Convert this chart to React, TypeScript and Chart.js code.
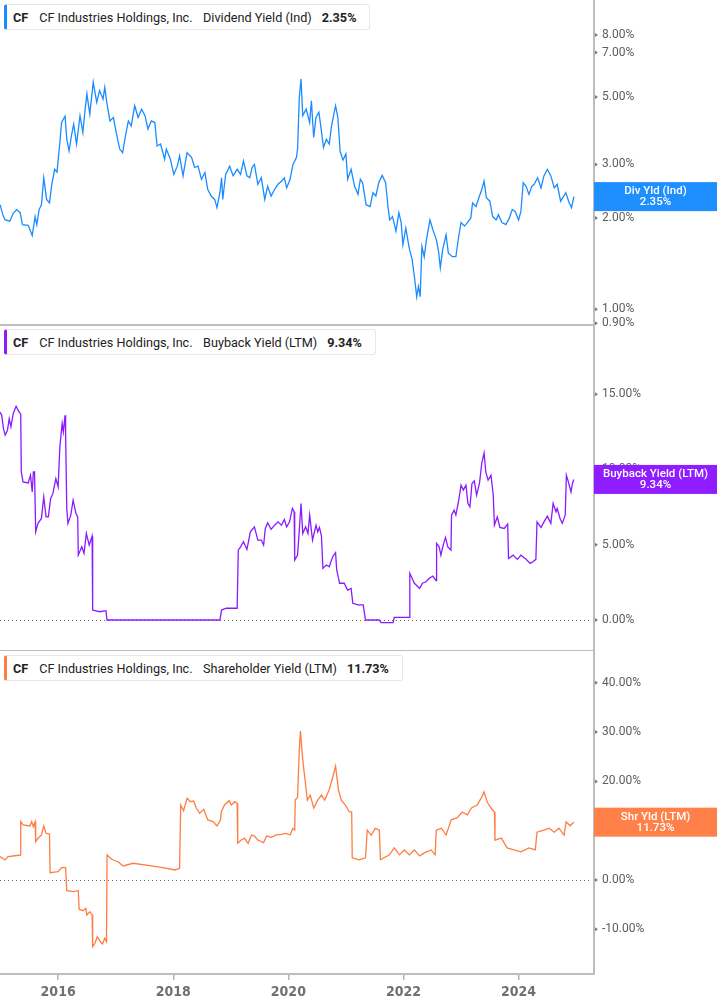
import React, { useEffect, useRef } from "react";
import { Chart, registerables } from "chart.js";

Chart.register(...registerables);

// ---------- DATA ----------
const yearTicks = [2016, 2018, 2020, 2022, 2024];
const divTicks = [0.9, 1, 2, 3, 5, 7, 8];
const bbTicks = [0, 5, 10, 15];
const shTicks = [-10, 0, 10, 20, 30, 40];

const divYears = [
  2014.99, 2015.05, 2015.08, 2015.16, 2015.22, 2015.28, 2015.34, 2015.38, 2015.48, 2015.55,
  2015.6, 2015.63, 2015.67, 2015.71, 2015.75, 2015.8, 2015.85, 2015.89, 2015.94, 2015.98,
  2016.03, 2016.06, 2016.12, 2016.15, 2016.19, 2016.23, 2016.27, 2016.32, 2016.38, 2016.43,
  2016.46, 2016.5, 2016.55, 2016.61, 2016.67, 2016.72, 2016.78, 2016.81, 2016.85, 2016.9,
  2016.96, 2017.01, 2017.07, 2017.12, 2017.18, 2017.22, 2017.27, 2017.33, 2017.39, 2017.45,
  2017.51, 2017.56, 2017.62, 2017.68, 2017.72, 2017.78, 2017.85, 2017.88, 2017.95, 2018.01,
  2018.07, 2018.11, 2018.17, 2018.24, 2018.32, 2018.37, 2018.43, 2018.49, 2018.55, 2018.6,
  2018.66, 2018.72, 2018.76, 2018.81, 2018.84, 2018.86, 2018.91, 2018.98, 2019.04, 2019.11,
  2019.17, 2019.22, 2019.28, 2019.33, 2019.37, 2019.41, 2019.47, 2019.53, 2019.59, 2019.64,
  2019.7, 2019.76, 2019.82, 2019.88, 2019.93, 2019.97, 2020.03, 2020.08, 2020.14, 2020.16,
  2020.19, 2020.22, 2020.25, 2020.31, 2020.37, 2020.4, 2020.44, 2020.48, 2020.53, 2020.57,
  2020.61, 2020.66, 2020.71, 2020.75, 2020.82, 2020.86, 2020.9, 2020.95, 2021.0, 2021.03,
  2021.09, 2021.15, 2021.21, 2021.25, 2021.29, 2021.35, 2021.42, 2021.47, 2021.52, 2021.57,
  2021.63, 2021.69, 2021.73, 2021.76, 2021.81, 2021.87, 2021.92, 2021.96, 2021.99, 2022.04,
  2022.1, 2022.15, 2022.19, 2022.23, 2022.26, 2022.29, 2022.32, 2022.36, 2022.4, 2022.46,
  2022.51, 2022.57, 2022.61, 2022.64, 2022.68, 2022.74, 2022.78, 2022.85, 2022.91, 2022.96,
  2023.0, 2023.06, 2023.11, 2023.17, 2023.2, 2023.26, 2023.32, 2023.36, 2023.4, 2023.44,
  2023.5, 2023.55, 2023.61, 2023.65, 2023.71, 2023.78, 2023.84, 2023.89, 2023.94, 2024.0,
  2024.04, 2024.08, 2024.13, 2024.18, 2024.23, 2024.27, 2024.33, 2024.39, 2024.44, 2024.5,
  2024.56, 2024.62, 2024.67, 2024.73, 2024.82, 2024.88, 2024.92, 2024.96,
];
const divValues = [
  2.21, 2.02, 1.97, 1.95, 2.07, 2.13, 2.08, 1.9, 1.89, 1.75,
  2.02, 1.9, 2.13, 2.21, 2.71, 2.3, 2.24, 2.58, 2.89, 2.83,
  3.54, 4.12, 4.32, 3.63, 3.32, 3.72, 4.07, 3.5, 4.34, 3.82,
  4.39, 5.12, 4.39, 5.59, 4.8, 5.25, 4.92, 5.38, 4.74, 4.17,
  4.28, 3.82, 3.37, 3.28, 3.82, 4.17, 4.02, 4.68, 4.28, 4.56,
  4.34, 3.92, 4.17, 4.12, 3.45, 3.5, 3.12, 3.37, 3.12, 2.78,
  2.96, 3.2, 2.75, 3.28, 3.16, 2.93, 2.96, 2.68, 2.82, 2.48,
  2.36, 2.3, 2.16, 2.42, 2.71, 2.3, 2.78, 2.96, 2.75, 2.89,
  2.78, 3.08, 2.75, 2.71, 2.93, 3.0, 2.58, 2.71, 2.3, 2.54,
  2.36, 2.48, 2.58, 2.64, 2.71, 2.51, 2.68, 3.0, 3.16, 3.37,
  4.99, 5.73, 4.34, 4.56, 4.12, 4.86, 3.68, 4.28, 4.45, 3.92,
  3.41, 3.63, 3.5, 4.02, 4.68, 4.28, 3.3, 3.1, 3.25, 2.68,
  2.89, 2.54, 2.39, 2.68, 2.61, 2.21, 2.18, 2.42, 2.36, 2.61,
  2.76, 2.61, 2.18, 1.97, 2.02, 1.81, 2.08, 1.93, 1.63, 1.85,
  1.59, 1.46, 1.28, 1.1, 1.19, 1.1, 1.61, 1.49, 1.7, 1.97,
  1.83, 1.7, 1.55, 1.37, 1.57, 1.76, 1.53, 1.49, 1.49, 1.74,
  1.93, 1.88, 1.93, 2.0, 2.24, 2.18, 2.36, 2.48, 2.64, 2.33,
  2.27, 2.02, 1.97, 2.05, 1.93, 1.9, 2.0, 2.13, 2.1, 1.97,
  2.1, 2.61, 2.54, 2.39, 2.54, 2.58, 2.71, 2.51, 2.75, 2.89,
  2.75, 2.51, 2.58, 2.27, 2.42, 2.24, 2.16, 2.35,
];

const bbYears = [
  2014.99, 2015.02, 2015.05, 2015.08, 2015.12, 2015.15, 2015.18, 2015.22, 2015.27, 2015.31,
  2015.35, 2015.36, 2015.39, 2015.48, 2015.52, 2015.55, 2015.57, 2015.59, 2015.61, 2015.65,
  2015.71, 2015.75, 2015.79, 2015.83, 2015.87, 2015.91, 2015.96, 2016.0, 2016.03, 2016.07,
  2016.09, 2016.12, 2016.13, 2016.15, 2016.17, 2016.22, 2016.26, 2016.31, 2016.34, 2016.35,
  2016.41, 2016.45, 2016.49, 2016.54, 2016.59, 2016.6, 2016.72, 2016.83, 2016.85, 2018.81,
  2018.84, 2018.92, 2019.11, 2019.13, 2019.17, 2019.22, 2019.28, 2019.34, 2019.41, 2019.47,
  2019.53, 2019.57, 2019.6, 2019.64, 2019.7, 2019.76, 2019.82, 2019.88, 2019.93, 2019.97,
  2020.02, 2020.07, 2020.1, 2020.11, 2020.16, 2020.19, 2020.22, 2020.25, 2020.3, 2020.34,
  2020.37, 2020.42, 2020.48, 2020.51, 2020.54, 2020.575, 2020.6, 2020.66, 2020.71, 2020.77,
  2020.82, 2020.84, 2020.89, 2020.97, 2021.03, 2021.09, 2021.12, 2021.21, 2021.3, 2021.34,
  2021.58, 2021.61, 2021.82, 2021.84, 2022.1, 2022.11, 2022.19, 2022.28, 2022.33, 2022.39,
  2022.45, 2022.51, 2022.565, 2022.575, 2022.62, 2022.65, 2022.69, 2022.73, 2022.77, 2022.825,
  2022.835, 2022.88, 2022.91, 2022.96, 2023.0, 2023.04, 2023.085, 2023.12, 2023.155, 2023.19,
  2023.23, 2023.27, 2023.32, 2023.36, 2023.4, 2023.43, 2023.47, 2023.52, 2023.56, 2023.58,
  2023.63, 2023.675, 2023.75, 2023.81, 2023.825, 2023.905, 2023.98, 2024.04, 2024.13, 2024.2,
  2024.25, 2024.3, 2024.32, 2024.39, 2024.44, 2024.5, 2024.56, 2024.6, 2024.65, 2024.67,
  2024.72, 2024.76, 2024.81, 2024.83, 2024.865, 2024.91, 2024.935, 2024.96,
];
const bbValues = [
  13.82, 13.6, 12.72, 12.28, 12.61, 13.38, 12.83, 13.72, 14.2, 13.89,
  13.67, 9.84, 9.18, 9.11, 9.62, 8.51, 9.84, 9.84, 5.86, 6.42,
  6.75, 8.18, 6.85, 6.85, 8.08, 8.41, 9.4, 8.85, 11.5, 13.05,
  12.5, 13.6, 12.39, 7.41, 6.42, 6.97, 7.96, 7.08, 6.85, 4.31,
  4.86, 4.43, 5.75, 4.98, 5.57, 0.66, 0.55, 0.62, 0.0, 0.0,
  0.66, 0.78, 0.78, 4.64, 4.86, 5.2, 4.69, 5.86, 6.19, 5.31,
  5.31, 4.98, 6.08, 6.46, 6.02, 6.3, 6.52, 6.3, 6.68, 6.19,
  6.52, 7.41, 7.19, 3.98, 4.31, 5.97, 7.74, 5.75, 6.19, 5.75,
  6.97, 5.31, 6.3, 5.86, 6.15, 5.57, 3.43, 3.65, 3.54, 4.2,
  4.47, 3.32, 2.44, 2.44, 1.99, 2.1, 1.11, 1.0, 1.0, 0.0,
  0.0, -0.18, -0.18, 0.18, 0.18, 3.1, 2.44, 2.1, 2.44, 2.54,
  2.77, 2.92, 2.61, 5.09, 4.86, 4.31, 4.98, 5.49, 4.86, 4.64,
  6.97, 7.3, 6.97, 7.96, 8.96, 8.63, 8.96, 7.74, 7.52, 9.07,
  9.24, 8.29, 9.07, 10.4, 11.1, 9.84, 9.29, 9.62, 8.29, 6.3,
  6.85, 6.15, 6.08, 6.37, 4.09, 4.31, 4.03, 4.31, 4.03, 3.76,
  3.87, 4.03, 6.52, 6.15, 6.52, 6.9, 6.42, 7.74, 7.19, 7.41,
  6.75, 6.42, 6.97, 9.62, 9.18, 8.51, 9.07, 9.34,
];

const shYears = [
  2014.99, 2015.08, 2015.13, 2015.22, 2015.34, 2015.35, 2015.39, 2015.51, 2015.54, 2015.57,
  2015.6, 2015.61, 2015.65, 2015.71, 2015.75, 2015.79, 2015.85, 2015.86, 2016.0, 2016.06,
  2016.13, 2016.15, 2016.26, 2016.35, 2016.365, 2016.435, 2016.48, 2016.5, 2016.55, 2016.59,
  2016.6, 2016.64, 2016.68, 2016.72, 2016.77, 2016.81, 2016.84, 2016.85, 2016.93, 2017.04,
  2017.13, 2017.3, 2017.59, 2017.82, 2018.03, 2018.11, 2018.13, 2018.18, 2018.24, 2018.3,
  2018.355, 2018.4, 2018.46, 2018.53, 2018.6, 2018.69, 2018.76, 2018.82, 2018.835, 2018.89,
  2018.97, 2019.01, 2019.07, 2019.11, 2019.12, 2019.18, 2019.24, 2019.3, 2019.36, 2019.41,
  2019.47, 2019.57, 2019.62, 2019.7, 2019.79, 2019.88, 2019.96, 2020.03, 2020.08, 2020.11,
  2020.12, 2020.16, 2020.19, 2020.21, 2020.25, 2020.28, 2020.33, 2020.38, 2020.44, 2020.51,
  2020.575, 2020.63, 2020.71, 2020.78, 2020.82, 2020.87, 2020.92, 2020.99, 2021.06, 2021.1,
  2021.11, 2021.23, 2021.34, 2021.37, 2021.44, 2021.51, 2021.58, 2021.6, 2021.755, 2021.84,
  2021.93, 2022.015, 2022.1, 2022.19, 2022.28, 2022.36, 2022.48, 2022.55, 2022.57, 2022.66,
  2022.74, 2022.83, 2022.93, 2023.02, 2023.11, 2023.18, 2023.28, 2023.35, 2023.4, 2023.455,
  2023.52, 2023.58, 2023.59, 2023.7, 2023.8, 2023.92, 2024.04, 2024.18, 2024.29, 2024.32,
  2024.44, 2024.53, 2024.62, 2024.7, 2024.79, 2024.825, 2024.895, 2024.96,
];
const shValues = [
  4.73, 4.06, 4.73, 4.87, 5.07, 11.83, 11.16, 10.95, 11.83, 10.81,
  11.83, 7.77, 8.46, 9.13, 10.95, 9.47, 9.33, 1.48, 1.68, 2.5,
  2.5, -2.17, -2.37, -2.17, -5.94, -6.23, -5.74, -7.1, -6.43, -7.1,
  -13.53, -12.84, -11.5, -12.31, -12.98, -11.83, -12.51, 5.07, 4.2, 3.71,
  2.84, 3.39, 2.9, 2.5, 2.03, 2.37, 15.21, 14.06, 16.57, 15.88,
  16.02, 14.54, 13.53, 14.34, 12.17, 11.83, 10.95, 12.17, 13.85, 15.21,
  16.09, 15.21, 15.88, 15.56, 7.44, 8.11, 8.46, 7.44, 9.13, 8.92,
  8.11, 7.57, 8.92, 8.66, 9.13, 9.27, 9.47, 9.13, 10.49, 10.14,
  16.23, 16.77, 26.37, 30.2, 24.3, 21.3, 16.2, 17.2, 14.6, 16.2,
  17.2, 16.2, 18.3, 21.3, 23.1, 18.3, 16.2, 15.2, 13.8, 13.8,
  4.5, 4.1, 4.5, 10.1, 9.1, 10.5, 10.1, 4.1, 5.1, 6.5,
  5.1, 6.1, 5.1, 6.1, 4.9, 5.5, 6.1, 5.1, 10.1, 10.5,
  9.1, 12.2, 12.6, 13.8, 13.2, 14.6, 15.2, 16.6, 17.9, 15.8,
  14.6, 13.8, 8.1, 8.5, 6.5, 6.1, 5.7, 6.5, 6.1, 9.7,
  10.1, 10.5, 9.7, 10.5, 9.1, 11.8, 11.0, 11.73,
];

// ---------- LAYOUT / STYLE ----------
const W = 717;
const X_MIN = 2014.99;
const X_MAX = 2025.31;
const AXIS_W = 123;

type PanelCfg = {
  top: number;
  height: number;
  plotHeight: number;
  years: number[];
  values: number[];
  color: string;
  boxColor: string;
  log: boolean;
  yMin: number;
  yMax: number;
  ticks: number[];
  zero: boolean;
  showX: boolean;
  boxLabel: string;
  legendTitle: string;
  legendTop: number;
};

const panels: PanelCfg[] = [
  {
    top: 0, height: 336, plotHeight: 325, years: divYears, values: divValues,
    color: "#1a8cff", boxColor: "#1f8fff", log: true, yMin: 0.888, yMax: 10.43,
    ticks: divTicks, zero: false, showX: false, boxLabel: "Div Yld (Ind)",
    legendTitle: "Dividend Yield (Ind)", legendTop: 4,
  },
  {
    top: 325, height: 326, plotHeight: 326, years: bbYears, values: bbValues,
    color: "#8b1aff", boxColor: "#8f1dff", log: false, yMin: -2.06, yMax: 19.6,
    ticks: bbTicks, zero: true, showX: false, boxLabel: "Buyback Yield (LTM)",
    legendTitle: "Buyback Yield (LTM)", legendTop: 329,
  },
  {
    top: 651, height: 354, plotHeight: 323, years: shYears, values: shValues,
    color: "#ff7d43", boxColor: "#ff8048", log: false, yMin: -19.07, yMax: 46.45,
    ticks: shTicks, zero: true, showX: true, boxLabel: "Shr Yld (LTM)",
    legendTitle: "Shareholder Yield (LTM)", legendTop: 655,
  },
];

const overlayPlugin = {
  id: "overlay",
  beforeDatasetsDraw(chart: any, _args: any, opts: any) {
    if (!opts.zero) return;
    const { ctx, chartArea } = chart;
    const y = Math.round(chart.scales.y.getPixelForValue(0)) + 0.5;
    ctx.save();
    ctx.strokeStyle = "#6f6f6f";
    ctx.lineWidth = 1;
    ctx.setLineDash([1, 3]);
    ctx.beginPath();
    ctx.moveTo(chartArea.left, y);
    ctx.lineTo(chartArea.right - 2, y);
    ctx.stroke();
    ctx.restore();
  },
  afterDraw(chart: any, _args: any, opts: any) {
    const { ctx, chartArea } = chart;
    const ys = chart.scales.y;
    ctx.save();
    ctx.fillStyle = "#7a7a7a";
    for (const t of ys.ticks) {
      const y = ys.getPixelForValue(t.value);
      ctx.beginPath();
      ctx.moveTo(chartArea.right + 1, y - 2);
      ctx.lineTo(chartArea.right + 4, y);
      ctx.lineTo(chartArea.right + 1, y + 2);
      ctx.closePath();
      ctx.fill();
    }
    const data = chart.data.datasets[0].data;
    const last = data[data.length - 1].y;
    const yy = ys.getPixelForValue(last);
    const h = 29;
    ctx.fillStyle = opts.boxColor;
    ctx.fillRect(chartArea.right, yy - h / 2, chart.width - chartArea.right, h);
    ctx.fillStyle = "#ffffff";
    ctx.font = "500 11.5px Roboto";
    ctx.textAlign = "center";
    ctx.textBaseline = "middle";
    const cx = (chartArea.right + chart.width) / 2;
    ctx.fillText(opts.label, cx, yy - 5);
    ctx.fillText(last.toFixed(2) + "%", cx, yy + 5.5);
    ctx.restore();
  },
};

function buildConfig(p: PanelCfg): any {
  return {
    type: "line",
    data: {
      datasets: [
        {
          data: p.years.map((x, i) => ({ x, y: p.values[i] })),
          borderColor: p.color,
          borderWidth: 1.3,
          pointRadius: 0,
          tension: 0,
          fill: false,
        },
      ],
    },
    options: {
      animation: false,
      responsive: false,
      maintainAspectRatio: false,
      devicePixelRatio: 1,
      events: [],
      layout: { padding: 0 },
      plugins: {
        legend: { display: false },
        tooltip: { enabled: false },
        overlay: { zero: p.zero, boxColor: p.boxColor, label: p.boxLabel },
      },
      scales: {
        x: {
          type: "linear",
          position: "bottom",
          min: X_MIN,
          max: X_MAX,
          afterBuildTicks: (s: any) => {
            s.ticks = yearTicks.map((v) => ({ value: v }));
          },
          afterFit: (s: any) => {
            s.height = p.height - p.plotHeight;
            s.paddingLeft = 0;
            s.paddingRight = 0;
          },
          ticks: {
            display: p.showX,
            autoSkip: false,
            maxRotation: 0,
            padding: 4,
            color: "#707070",
            font: { family: "'Liberation Sans Narrow', 'DejaVu Sans Condensed', sans-serif", size: 14, weight: "bold" },
            callback: (v: any) => String(v),
          },
          grid: {
            display: p.showX,
            drawOnChartArea: false,
            drawTicks: p.showX,
            tickLength: 6,
            color: "#b5b5b5",
            lineWidth: 1.5,
          },
          border: { display: true, color: "#bdbdbd", width: 2 },
        },
        y: {
          type: p.log ? "logarithmic" : "linear",
          position: "right",
          min: p.yMin,
          max: p.yMax,
          afterBuildTicks: (s: any) => {
            s.ticks = p.ticks.map((v) => ({ value: v }));
          },
          afterFit: (s: any) => {
            s.width = AXIS_W;
            s.paddingTop = 0;
            s.paddingBottom = 0;
          },
          ticks: {
            autoSkip: false,
            padding: 8,
            color: "#5c5c5c",
            font: { family: "Roboto, 'Noto Sans', sans-serif", size: 12 },
            callback: (v: any) => Number(v).toFixed(2) + "%",
          },
          grid: { display: false, drawTicks: false },
          border: { display: true, color: "#bdbdbd", width: 2 },
        },
      },
    },
    plugins: [overlayPlugin],
  };
}

function Panel({ cfg }: { cfg: PanelCfg }) {
  const ref = useRef<HTMLCanvasElement>(null);
  useEffect(() => {
    if (!ref.current) return;
    const chart = new Chart(ref.current, buildConfig(cfg));
    return () => chart.destroy();
  }, [cfg]);
  return (
    <canvas
      ref={ref}
      width={W}
      height={cfg.height}
      style={{ position: "absolute", left: 0, top: cfg.top, width: W, height: cfg.height, display: "block" }}
    />
  );
}

function Legend({ cfg }: { cfg: PanelCfg }) {
  const last = cfg.values[cfg.values.length - 1];
  return (
    <div
      style={{
        position: "absolute",
        left: 4,
        top: cfg.legendTop,
        height: 26,
        boxSizing: "border-box",
        display: "flex",
        alignItems: "center",
        whiteSpace: "nowrap",
        background: "#ffffff",
        border: "1px solid #e8e8e8",
        borderLeft: `3px solid ${cfg.color}`,
        borderRadius: 3,
        paddingLeft: 6,
        paddingRight: 13,
        fontFamily: "Roboto, 'Noto Sans', sans-serif",
        fontSize: 12.65,
        color: "#222222",
      }}
    >
      <span style={{ fontWeight: 700 }}>CF</span>
      <span style={{ marginLeft: 11 }}>CF Industries Holdings, Inc.</span>
      <span style={{ marginLeft: 10.5 }}>{cfg.legendTitle}</span>
      <span style={{ marginLeft: 10, fontWeight: 700 }}>{last.toFixed(2)}%</span>
    </div>
  );
}

export default function App() {
  return (
    <div style={{ position: "absolute", left: 0, top: 0, width: W, height: 1005, background: "#ffffff", overflow: "hidden" }}>
      {panels.map((p, i) => (
        <Panel key={"c" + i} cfg={p} />
      ))}
      {panels.map((p, i) => (
        <Legend key={"l" + i} cfg={p} />
      ))}
    </div>
  );
}
